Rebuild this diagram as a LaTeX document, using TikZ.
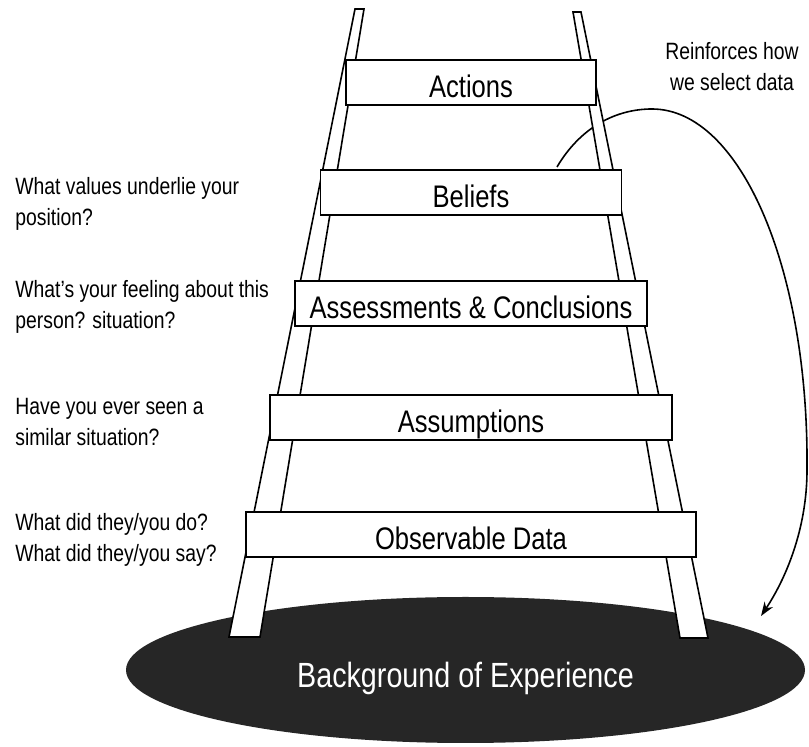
\documentclass[tikz,border=0pt]{standalone}
\usepackage{fontspec}
\setmainfont[FakeStretch=0.82]{Liberation Sans}
\usetikzlibrary{arrows.meta, shapes.geometric}

\begin{document}
\begin{tikzpicture}[x=0.5pt, y=-0.5pt,
    rung/.style={draw, fill=white, line width=0.8pt, minimum height=22.5pt, inner sep=0pt,
                 text height=14.7pt, text depth=0pt, font=\fontsize{15.6}{18}\selectfont},
    rail/.style={draw, fill=white, line width=0.8pt, line join=miter},
    note/.style={align=left, anchor=north west, inner sep=0pt, font=\fontsize{11.8}{15.5}\selectfont},
    ground/.style={ellipse, fill=black!85, text=white, inner sep=0pt, text height=17.5pt, text depth=0pt,
                   font=\fontsize{17.5}{20}\selectfont}]

    \useasboundingbox (0,0) rectangle (809,747);

    % the ground the ladder stands on
    \node[ground, minimum width=339.5pt, minimum height=73pt] (ground) at (465.5,670) {Background of Experience};

    % feedback loop, runs behind the right rail
    \coordinate (loopstart) at (557,167);
    \coordinate (looptop) at (652,109);
    \coordinate (loopside) at (807,470);
    \coordinate (looptip) at (761,616);
    \draw[line width=0.8pt, -{Stealth[length=7pt, width=5pt]}]
        (loopstart) .. controls (580,128) and (615,109) .. (looptop)
        .. controls (740,109) and (809,268) .. (loopside)
        .. controls (807,530) and (785,580) .. (looptip);

    % rails
    \draw[rail] (355,9) -- (364,9) -- (260,637) -- (229,637) -- cycle;
    \draw[rail] (573,12) -- (581,12) -- (708,638) -- (680,638) -- cycle;

    % rungs, bottom to top
    \foreach \name/\y/\w/\txt in {data/534.5/225/Observable Data,
                                 assume/417.5/201/Assumptions,
                                 assess/303.5/176/Assessments \& Conclusions,
                                 beliefs/192.5/150.5/Beliefs,
                                 actions/82.5/125/Actions}
        \node[rung, minimum width=\w pt] (\name) at (471,\y) {\txt};

    % questions beside the rungs
    \node[note] (qdata) at (15,513) {What did they/you do?\\What did they/you say?};
    \node[note] (qassume) at (15,398) {Have you ever seen a\\similar situation?};
    \node[note] (qassess) at (15,280) {What’s your feeling about this\\person? situation?};
    \node[note] (qbeliefs) at (15,177) {What values underlie your\\position?};

    \node[note, align=center, anchor=north] (reinforce) at (732,42) {Reinforces how\\we select data};
\end{tikzpicture}
\end{document}
